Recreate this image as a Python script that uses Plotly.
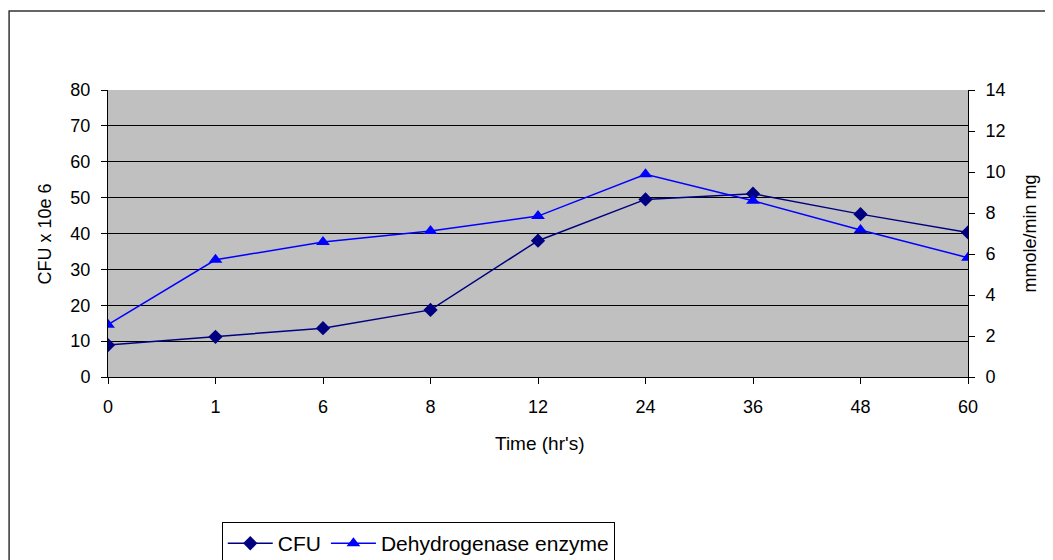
import plotly.graph_objects as go

time_labels = ["0", "1", "6", "8", "12", "24", "36", "48", "60"]
cfu = [8.9, 11.2, 13.6, 18.7, 38.0, 49.5, 51.1, 45.4, 40.3]
dehydrogenase = [2.55, 5.72, 6.58, 7.12, 7.85, 9.89, 8.6, 7.17, 5.82]

font_family = "Liberation Sans, Arial, sans-serif"

fig = go.Figure()

fig.add_trace(go.Scatter(
    x=time_labels, y=cfu, name="CFU",
    mode="lines+markers",
    line=dict(color="#000080", width=1.5),
    marker=dict(symbol="diamond", size=11, color="#000080"),
))

fig.add_trace(go.Scatter(
    x=time_labels, y=dehydrogenase, name="Dehydrogenase enzyme",
    mode="lines+markers", yaxis="y2",
    line=dict(color="#0000FF", width=1.5),
    marker=dict(symbol="triangle-up", size=12, color="#0000FF"),
))

axis_common = dict(
    showline=True, linecolor="#000000", linewidth=1,
    ticks="outside", ticklen=6, tickcolor="#000000",
    tickfont=dict(size=18, color="#000000"),
)

# the page adds an 8px body margin, so margins are shifted to compensate
fig.update_layout(
    width=1053, height=560,
    margin=dict(l=100, r=93, t=82, b=191),
    paper_bgcolor="white",
    plot_bgcolor="#C0C0C0",
    font=dict(family=font_family, color="#000000"),
    showlegend=True,
    xaxis=dict(
        type="category", range=[0, 8], showgrid=False, zeroline=False,
        ticklabelstandoff=7, **axis_common,
    ),
    yaxis=dict(
        range=[0, 80], dtick=10, showgrid=True, gridcolor="#000000", gridwidth=1,
        zeroline=False, ticklabelstandoff=7, **axis_common,
    ),
    yaxis2=dict(
        range=[0, 14], dtick=2, overlaying="y", side="right", showgrid=False,
        zeroline=False, ticklabelstandoff=7, **axis_common,
    ),
    legend=dict(
        orientation="h", xref="container", yref="container",
        x=0.203, y=0.082, xanchor="left", yanchor="top",
        bordercolor="#000000", borderwidth=1, bgcolor="white",
        font=dict(size=21, color="#000000"),
        itemwidth=45,
    ),
)

# axis titles placed as annotations
fig.add_annotation(text="Time (hr's)", xref="paper", yref="paper",
                   x=0.502, y=-0.23, xanchor="center", yanchor="middle",
                   showarrow=False, font=dict(size=19))
fig.add_annotation(text="CFU x 10e 6", xref="paper", yref="paper",
                   x=-0.0733, y=0.5, xanchor="center", yanchor="middle",
                   textangle=-90, showarrow=False, font=dict(size=18))
fig.add_annotation(text="mmole/min mg", xref="paper", yref="paper",
                   x=1.072, y=0.5, xanchor="center", yanchor="middle",
                   textangle=-90, showarrow=False, font=dict(size=18))

# outer chart frame
fig.add_shape(type="rect", xref="paper", yref="paper",
              x0=-0.115, x1=1.11, y0=-0.7, y1=1.275,
              line=dict(color="#333333", width=1.5), layer="below")

fig.write_html("out.html")
